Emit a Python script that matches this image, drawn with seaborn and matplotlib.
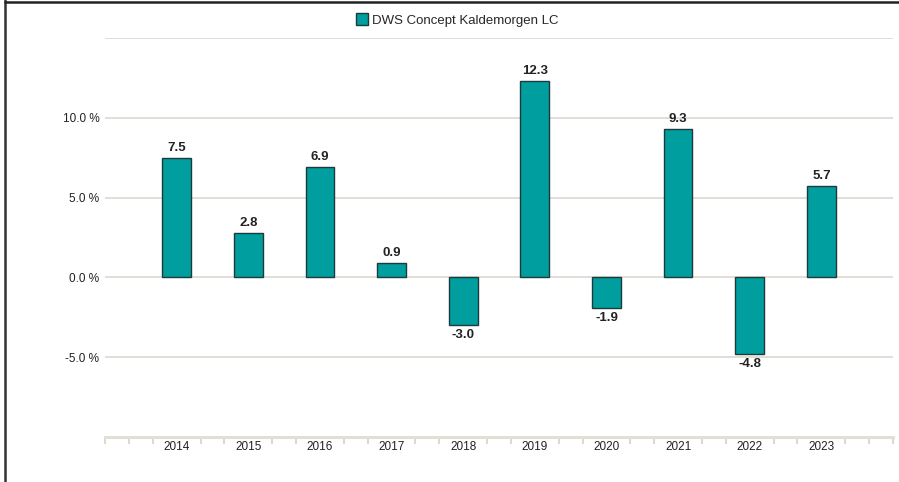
import pandas as pd
import matplotlib.pyplot as plt
import matplotlib.lines as mlines
import seaborn as sns

# Values
years = ["2014", "2015", "2016", "2017", "2018", "2019", "2020", "2021", "2022", "2023"]
returns = [7.5, 2.8, 6.9, 0.9, -3.0, 12.3, -1.9, 9.3, -4.8, 5.7]
series_name = "DWS Concept Kaldemorgen LC"

data = pd.DataFrame({"Year": years, "Return": returns})

sns.set_theme(style="white")
plt.rcParams["font.family"] = ["Liberation Sans", "DejaVu Sans"]

bar_color = "#009E9F"
edge_color = "#1E3B3B"
grid_color = "#DDD8D0"

fig = plt.figure(figsize=(8.99, 4.82), dpi=100)
ax = fig.add_axes([105 / 899, 1 - 437 / 482, 788 / 899, 399 / 482])

sns.barplot(data=data, x="Year", y="Return", color=bar_color, width=0.4,
            edgecolor=edge_color, linewidth=1, saturation=1, ax=ax, zorder=3)

ax.set_xlim(-1, 10)
ax.set_ylim(-10, 15)

# Horizontal gridlines
ax.set_yticks([-5, 0, 5, 10, 15])
ax.set_yticklabels(["-5.0 %", "0.0 %", "5.0 %", "10.0 %", ""])
ax.yaxis.grid(True, color=grid_color, linewidth=1.2, zorder=0)
ax.tick_params(axis="y", length=0, pad=4, labelsize=8.5, labelcolor="#222222")

# X axis: labels at category centres, small beige ticks between
ax.set_xticks(range(len(years)))
ax.set_xticklabels(years)
ax.tick_params(axis="x", length=0, pad=3, labelsize=8.5, labelcolor="#222222")
minor = [-1 + k / 3 for k in range(34) if k % 3 != 0 or k in (0, 33)]
ax.set_xticks(minor, minor=True)
ax.tick_params(axis="x", which="minor", bottom=True, length=5, width=1.5,
               color=grid_color, direction="out")

for side in ["top", "right", "left"]:
    ax.spines[side].set_visible(False)
ax.spines["bottom"].set_color("#E3DED6")
ax.spines["bottom"].set_linewidth(2.2)

ax.set_xlabel("")
ax.set_ylabel("")

# Value labels
for container in ax.containers:
    ax.bar_label(container, fmt="%.1f", padding=3, fontsize=9.5,
                 fontweight="bold", color="#222222")

# Legend
handle = mlines.Line2D([], [], marker="s", linestyle="none", markersize=9,
                       markerfacecolor=bar_color, markeredgecolor=edge_color,
                       markeredgewidth=1)
fig.legend([handle], [series_name], loc="center", bbox_to_anchor=(457 / 899, 1 - 21 / 482),
           frameon=False, fontsize=9.5, handletextpad=0.3, handlelength=1)

# Frame on left and top edges
fig.add_artist(mlines.Line2D([4.5 / 899, 4.5 / 899], [0, 1], color="#333333", linewidth=1.8))
fig.add_artist(mlines.Line2D([4.5 / 899, 1], [1 - 1.5 / 482, 1 - 1.5 / 482], color="#222222", linewidth=1.8))

plt.savefig("out.png", dpi=100)
plt.close()
